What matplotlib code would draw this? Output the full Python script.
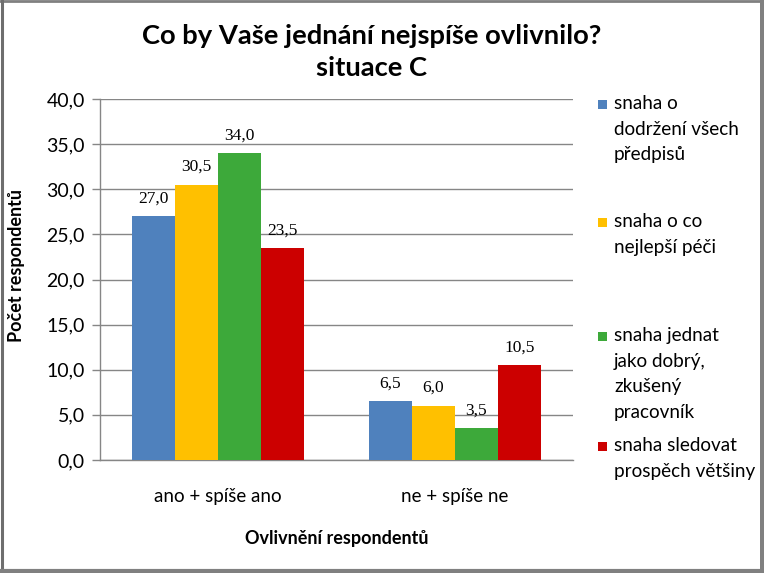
import matplotlib
matplotlib.use("Agg")
import matplotlib.pyplot as plt
from matplotlib.patches import Rectangle
from matplotlib.lines import Line2D
import numpy as np

categories = ["ano + spíše ano", "ne + spíše ne"]
series_names = ["snaha o\ndodržení všech\npředpisů",
                "snaha o co\nnejlepší péči",
                "snaha jednat\njako dobrý,\nzkušený\npracovník",
                "snaha sledovat\nprospěch většiny"]
values = [
    [27.0, 6.5],
    [30.5, 6.0],
    [34.0, 3.5],
    [23.5, 10.5],
]
colors = ["#4F81BD", "#FFC000", "#3DA93A", "#CC0000"]
yticks = [0, 5, 10, 15, 20, 25, 30, 35, 40]
ytick_labels = ["0,0", "5,0", "10,0", "15,0", "20,0", "25,0", "30,0", "35,0", "40,0"]
title = "Co by Vaše jednání nejspíše ovlivnilo?\nsituace C"
xlabel = "Ovlivnění respondentů"
ylabel = "Počet respondentů"

SANS = ["Lato", "DejaVu Sans"]
SERIF = ["Liberation Serif", "DejaVu Serif"]
plt.rcParams['font.family'] = SANS

W, H = 764, 573
fig = plt.figure(figsize=(W / 100, H / 100), dpi=100)
fig.patch.set_facecolor("white")

left, right, bottom, top = 100, 573, 460, 99
ax = fig.add_axes([left / W, 1 - bottom / H, (right - left) / W, (bottom - top) / H])

x = np.arange(len(categories))
bw = 0.182
n = len(values)
for i, (vals, c) in enumerate(zip(values, colors)):
    pos = x + (i - (n - 1) / 2) * bw
    bars = ax.bar(pos, vals, width=bw, color=c, zorder=3, linewidth=0)
    for p, v in zip(pos, vals):
        ax.annotate(f"{v:.1f}".replace(".", ","), (p, v), xytext=(0, 7),
                    textcoords="offset points", ha="center", va="bottom",
                    fontsize=12.5, family=SERIF, color="black")

ax.set_xlim(-0.5, 1.5)
ax.set_ylim(0, 40)
ax.set_yticks(yticks)
ax.set_yticklabels(ytick_labels, fontsize=14)
ax.set_xticks(x)
ax.set_xticklabels(categories, fontsize=13.5)
ax.tick_params(axis="x", length=0, pad=20)
ax.tick_params(axis="y", length=6, width=1, color="#868686", pad=5)
ax.yaxis.grid(True, color="#868686", linewidth=1, zorder=0)
ax.set_axisbelow(True)
for s in ["top", "right"]:
    ax.spines[s].set_visible(False)
for s in ["left", "bottom"]:
    ax.spines[s].set_color("#868686")
    ax.spines[s].set_linewidth(1)

ax.set_xlabel(xlabel, fontsize=13, fontweight="bold", labelpad=18)
fig.text(17 / W, 1 - 265 / H, ylabel, rotation=90, ha="center", va="center",
         fontsize=13, fontweight="bold")

fig.text(0.5 * (145 + 598) / W, 1 - 52 / H, title, ha="center", va="center",
         fontsize=19.7, fontweight="bold", linespacing=1.45)

# manual legend (Excel-like spacing)
legend_y = [104, 222, 336, 446]
for name, c, yy in zip(series_names, colors, legend_y):
    fig.patches.append(Rectangle((598 / W, 1 - (yy + 4.5) / H), 9 / W, 9 / H,
                                 transform=fig.transFigure, facecolor=c,
                                 edgecolor="none"))
    fig.text(614 / W, 1 - (yy - 9) / H, name, ha="left", va="top",
             fontsize=13.6, linespacing=1.62)

# chart border
fig.add_artist(Line2D([0, 1], [1 - 1 / H, 1 - 1 / H], transform=fig.transFigure,
                      color="#808080", lw=2))
fig.add_artist(Line2D([1.5 / W, 1.5 / W], [0, 1], transform=fig.transFigure,
                      color="#6e6e6e", lw=2.2))
fig.add_artist(Line2D([1 - 2.5 / W, 1 - 2.5 / W], [0, 1], transform=fig.transFigure,
                      color="#808080", lw=3.6))
fig.add_artist(Line2D([0, 1], [2 / H, 2 / H], transform=fig.transFigure,
                      color="#808080", lw=3))

fig.savefig("out.png", dpi=100)
